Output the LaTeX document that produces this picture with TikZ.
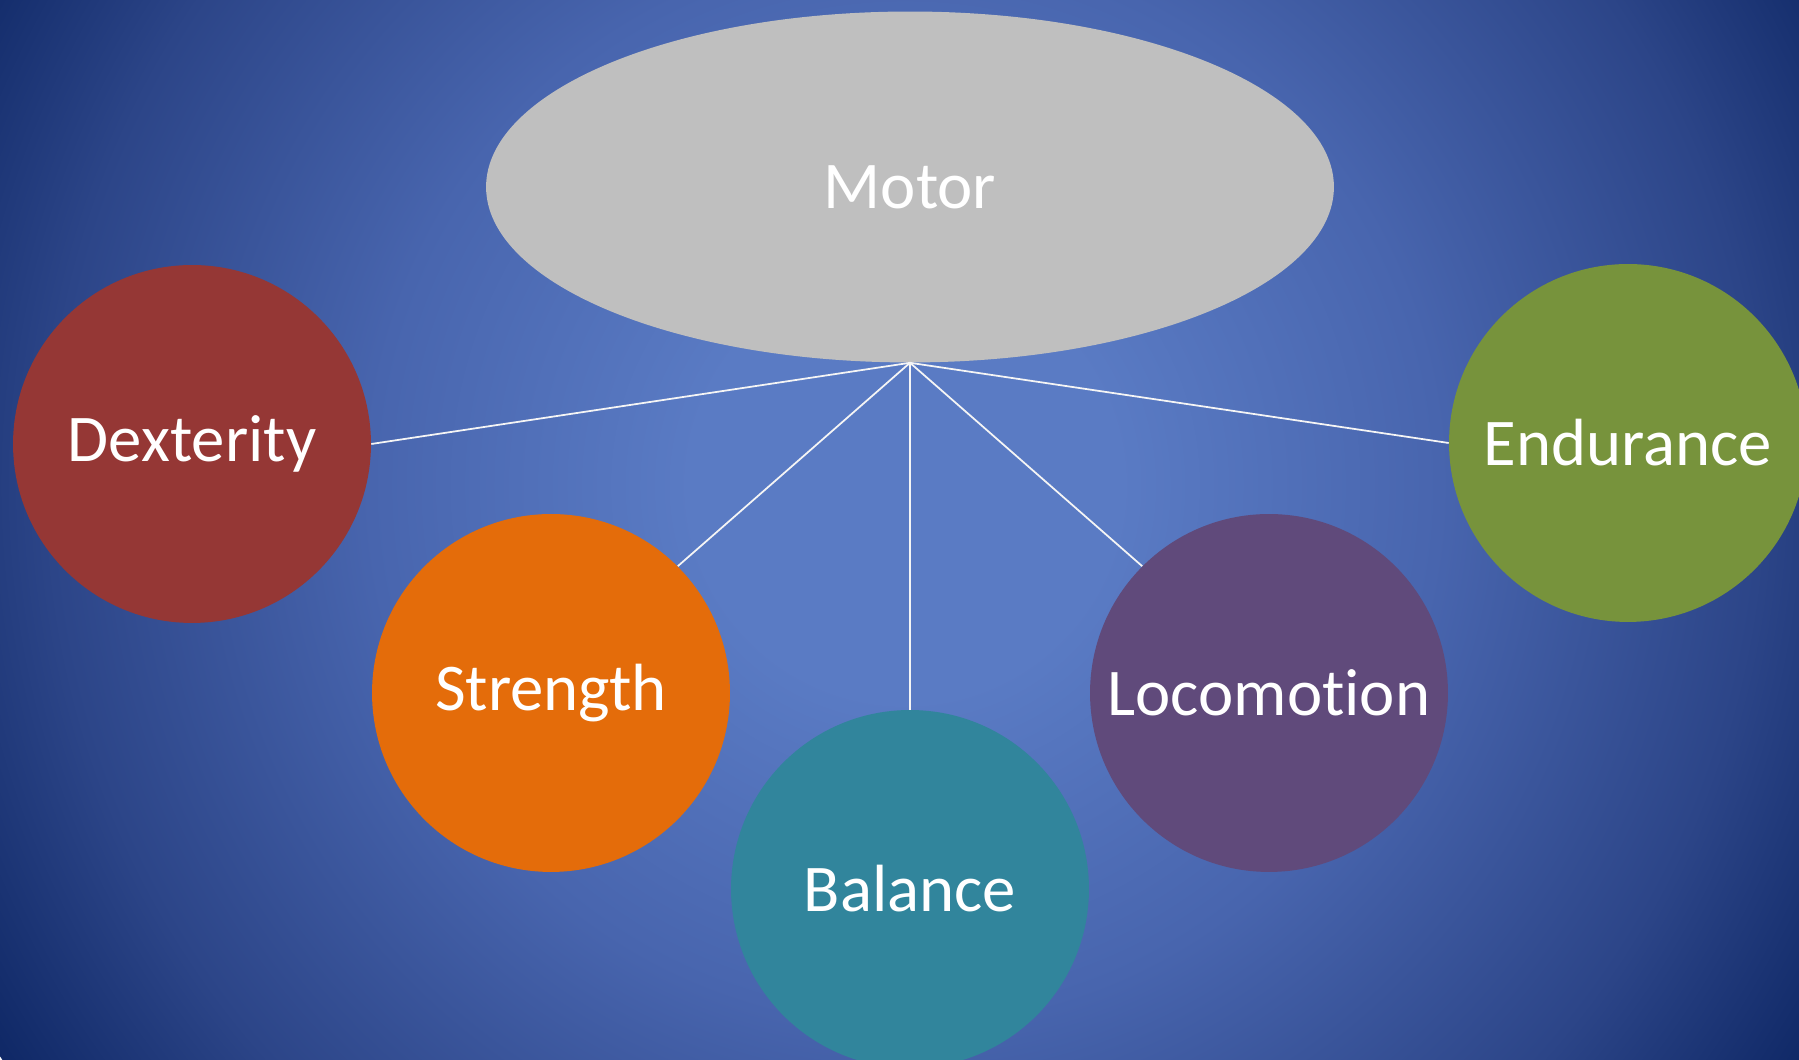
\documentclass[tikz,border=0pt]{standalone}
\usepackage{fontspec}
\setmainfont{Carlito}[Ligatures=NoCommon]
\usetikzlibrary{shapes.geometric}

\definecolor{bgin}{HTML}{5A7BC4}
\definecolor{bgmid}{HTML}{4865AE}
\definecolor{bgedge}{HTML}{2C4588}
\definecolor{bgout}{HTML}{0F2866}
\definecolor{motorgray}{HTML}{BFBFBF}
\definecolor{dexred}{HTML}{953735}
\definecolor{strorange}{HTML}{E46C0A}
\definecolor{balteal}{HTML}{31859C}
\definecolor{locpurple}{HTML}{604A7B}
\definecolor{endgreen}{HTML}{77933C}

\pgfdeclareradialshading{slideglow}{\pgfpoint{0bp}{0bp}}{%
  color(0bp)=(bgin); color(5bp)=(bgin); color(12.5bp)=(bgmid);
  color(20bp)=(bgedge); color(25bp)=(bgout); color(50bp)=(bgout)}

\begin{document}
\begin{tikzpicture}[x=0.02cm,y=0.02cm,
  skill/.style = {circle,draw=none,inner sep=0pt,minimum size=7.16cm,
                  text=white,font=\fontsize{38}{46}\selectfont},
  hub/.style = {ellipse,fill=motorgray,draw=none,inner sep=0pt,
                minimum width=16.96cm,minimum height=7.02cm,
                text=white,font=\fontsize{38}{46}\selectfont},
  spoke/.style = {draw=white!92!gray,line width=1pt}]
\useasboundingbox (0,0) rectangle (1799,1060);
\begin{scope}
\clip (0,0) rectangle (1799,1060);
\shade[shading=slideglow] (905,575) circle (1070);
\end{scope}

\node[hub] (M) at (910,873) {Motor};
\node[skill,fill=dexred] (D) at (192,616) {Dexterity};
\node[skill,fill=strorange] (S) at (551,367) {Strength};
\node[skill,fill=balteal] (B) at (910,171) {Balance};
\node[skill,fill=locpurple] (L) at (1269,367) {Locomotion};
\node[skill,fill=endgreen] (E) at (1628,617) {Endurance};

\draw[spoke] (M.south) -- (D.east);
\draw[spoke] (M.south) -- (S.north east);
\draw[spoke] (M.south) -- (B.north);
\draw[spoke] (M.south) -- (L.north west);
\draw[spoke] (M.south) -- (E.west);
\end{tikzpicture}
\end{document}
